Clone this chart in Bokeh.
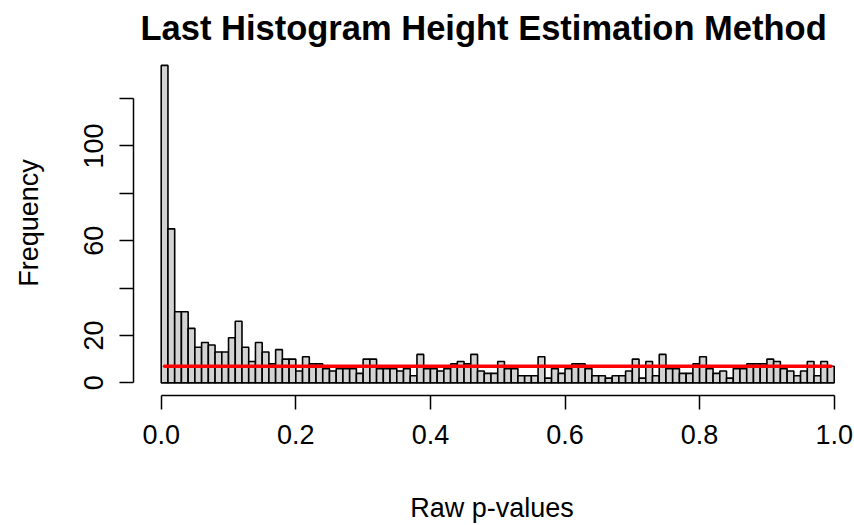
from bokeh.plotting import figure
from bokeh.models import FixedTicker, Range1d, ColumnDataSource
from bokeh.embed import file_html
from bokeh.resources import INLINE

# Histogram data: 100 bins of width 0.01 over [0, 1]
bin_edges = [i / 100 for i in range(101)]
counts = [134, 65, 30, 30, 23, 15, 17, 16, 13, 13,
          19, 26, 15, 9, 17, 13, 8, 14, 10, 10,
          5, 11, 8, 8, 6, 5, 6, 6, 6, 4,
          10, 10, 6, 6, 6, 5, 6, 3, 12, 6,
          6, 5, 6, 8, 9, 8, 12, 5, 4, 4,
          9, 6, 6, 3, 3, 3, 11, 2, 6, 4,
          6, 8, 8, 6, 3, 3, 2, 3, 3, 5,
          10, 2, 9, 3, 12, 6, 6, 4, 4, 8,
          11, 6, 4, 5, 2, 6, 6, 8, 8, 8,
          10, 9, 6, 5, 3, 5, 9, 3, 9, 7]
estimate_height = 7
estimate_x = [0.005, 0.995]

x_ticks = [0.0, 0.2, 0.4, 0.6, 0.8, 1.0]
x_tick_labels = ["0.0", "0.2", "0.4", "0.6", "0.8", "1.0"]
y_ticks = [0, 20, 40, 60, 80, 100, 120]
y_tick_labels = ["0", "20", "", "60", "", "100", ""]

FONT = "Liberation Sans"

p = figure(width=854, height=525, output_backend="svg", toolbar_location=None,
           x_range=Range1d(-0.0412, 1.0242), y_range=Range1d(-5.35, 140.3),
           min_border_left=133, min_border_right=4, min_border_top=50,
           min_border_bottom=129, title="Last Histogram Height Estimation Method")

p.title.text_font = FONT
p.title.text_font_size = "34.5px"
p.title.text_font_style = "bold"
p.title.text_color = "black"
p.title.align = "left"
p.title.offset = 7
p.title.standoff = 8

src = ColumnDataSource(dict(left=bin_edges[:-1], right=bin_edges[1:], top=counts,
                            bottom=[0] * len(counts)))
p.quad(left="left", right="right", top="top", bottom="bottom", source=src,
       fill_color="#D3D3D3", line_color="black", line_width=1.6)

p.line(estimate_x, [estimate_height, estimate_height], line_color="red",
       line_width=3.5, line_cap="round")

p.grid.visible = False
p.outline_line_color = None

xa = p.xaxis[0]
xa.ticker = FixedTicker(ticks=x_ticks)
xa.major_label_overrides = {t: l for t, l in zip(x_ticks, x_tick_labels)}
xa.bounds = (0, 1)
xa.axis_label = "Raw p-values"

ya = p.yaxis[0]
ya.ticker = FixedTicker(ticks=y_ticks)
ya.major_label_overrides = {t: l for t, l in zip(y_ticks, y_tick_labels)}
ya.bounds = (0, 120)
ya.axis_label = "Frequency"
ya.major_label_orientation = "vertical"

for ax in (xa, ya):
    ax.axis_line_width = 1.5
    ax.axis_line_color = "black"
    ax.major_tick_line_width = 1.5
    ax.major_tick_line_color = "black"
    ax.major_tick_out = 14
    ax.major_tick_in = 0
    ax.minor_tick_line_color = None
    ax.major_label_text_font = FONT
    ax.major_label_text_font_size = "27px"
    ax.major_label_text_color = "black"
    ax.axis_label_text_font = FONT
    ax.axis_label_text_font_size = "27px"
    ax.axis_label_text_font_style = "normal"
    ax.axis_label_text_color = "black"

xa.major_label_standoff = 15
xa.axis_label_standoff = 46
ya.major_label_standoff = 16
ya.axis_label_standoff = 38

open("out.html", "w").write(file_html(p, INLINE))
